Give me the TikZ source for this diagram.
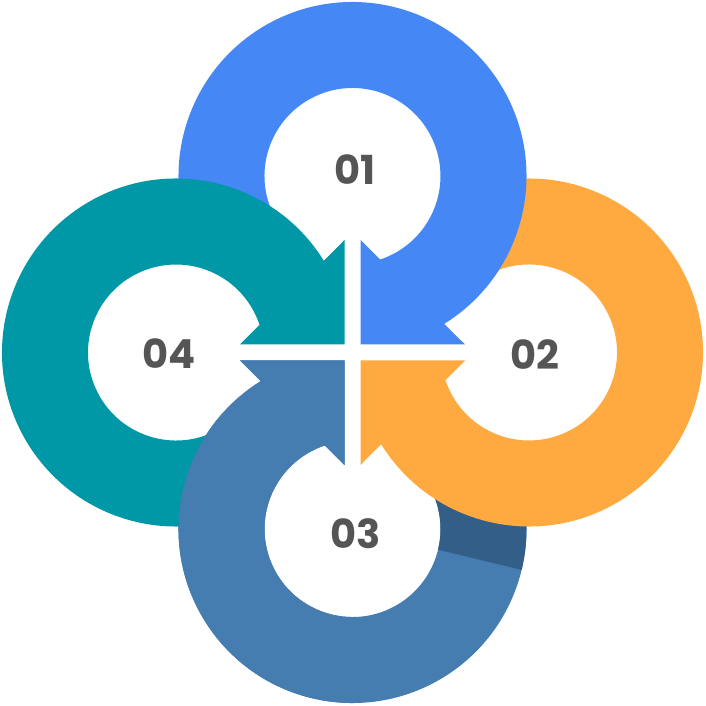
\documentclass[tikz,border=0pt]{standalone}
\usepackage{fontspec}
\newfontfamily\numfont{Poppins}
\definecolor{ringblue}{HTML}{4587F5}
\definecolor{ringorange}{HTML}{FFAA41}
\definecolor{ringsteel}{HTML}{457DB0}
\definecolor{ringdark}{HTML}{335E88}
\definecolor{ringteal}{HTML}{0097A7}
\definecolor{numgray}{HTML}{555555}
\newcommand\ringpath{(8,-8) -- (112.5,-8) -- (91.79,-28.69)
  arc[start angle=58.16, end angle=-205, radius=174] -- (-79.76,-139.31)
  arc[start angle=-205, end angle=71.7, radius=88] -- (8,-112.5) -- cycle}
\newcommand\darkpath{(-169.12,-217.41) arc[start angle=-166.4, end angle=-205, radius=174]
  -- (-79.76,-139.31) arc[start angle=-205, end angle=-166.4, radius=88] -- cycle}
\begin{document}
\begin{tikzpicture}[x=1pt,y=-1pt,
  lbl/.style={font=\numfont\bfseries\fontsize{40}{40}\selectfont, text=numgray, inner sep=0pt}]
\useasboundingbox (-352.5,-352.5) rectangle (352.5,353.5);
% 03 (steel), first pass
\begin{scope}[rotate=180]
  \fill[ringsteel] \ringpath;
  \fill[ringdark] \darkpath;
\end{scope}
% 02 (orange)
\begin{scope}[rotate=-90]
  \fill[ringorange] \ringpath;
\end{scope}
% 01 (blue)
\fill[ringblue] \ringpath;
% 04 (teal)
\begin{scope}[rotate=90]
  \fill[ringteal] \ringpath;
\end{scope}
% 03 (steel) over teal, left half only
\begin{scope}
  \clip (-360,-360) rectangle (0,360);
  \begin{scope}[rotate=180]
    \fill[ringsteel] \ringpath;
  \end{scope}
\end{scope}
\node[lbl] (n01) at (2.2,-182.5) {01};
\node[lbl] (n02) at (182.5,2) {02};
\node[lbl] (n03) at (3.5,181.5) {03};
\node[lbl] (n04) at (-183.5,0.8) {04};
\end{tikzpicture}
\end{document}
